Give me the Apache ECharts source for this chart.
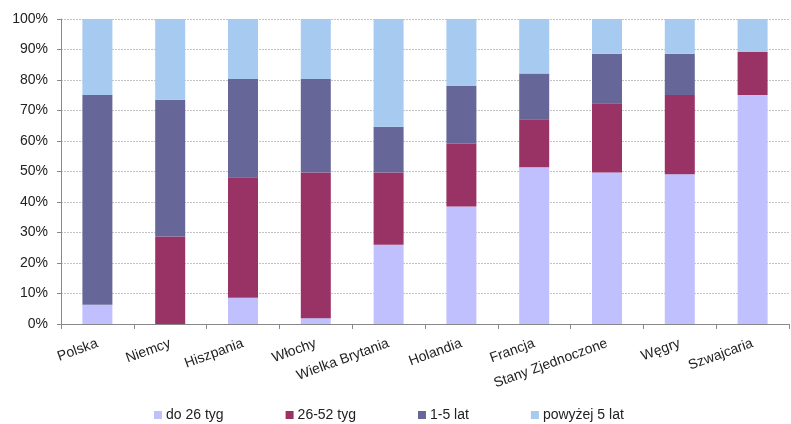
<!DOCTYPE html>
<html>
<head>
<meta charset="utf-8">
<script src="https://cdn.jsdelivr.net/npm/echarts@6/dist/echarts.min.js"></script>
<style>
  html, body { margin: 0; padding: 0; background: #fff; }
  #chart { width: 791px; height: 424px; }
</style>
</head>
<body>
<div id="chart"></div>
<script>
// Countries on the category axis
const categories = ['Polska', 'Niemcy', 'Hiszpania', 'Włochy', 'Wielka Brytania',
  'Holandia', 'Francja', 'Stany Zjednoczone', 'Węgry', 'Szwajcaria'];

// Share of each duration group (%)
const do26tyg   = [6.3, 0, 8.6, 1.9, 26.0, 38.5, 51.4, 49.7, 49.1, 75.1];
const tyg26_52  = [0, 28.7, 39.5, 47.8, 23.7, 20.6, 15.7, 22.7, 26.0, 14.1];
const lat1_5    = [68.8, 44.8, 32.2, 30.6, 15.0, 18.9, 15.0, 16.2, 13.5, 0];
const powyzej5  = [24.9, 26.5, 19.7, 19.7, 35.3, 22.0, 17.9, 11.4, 11.4, 10.8];

const seriesNames = ['do 26 tyg', '26-52 tyg', '1-5 lat', 'powyżej 5 lat'];
const colors = ['#C0C0FF', '#993366', '#666699', '#A6CAF0'];
const yTicks = [0, 10, 20, 30, 40, 50, 60, 70, 80, 90, 100];

const font = 'Liberation Sans, Arial, sans-serif';
const chart = echarts.init(document.getElementById('chart'));

const mk = (name, data) => ({
  name, type: 'bar', stack: 'total', data,
  barWidth: 30,
  itemStyle: { borderWidth: 0 }
});

chart.setOption({
  animation: false,
  color: colors,
  textStyle: { fontFamily: font },
  grid: { left: 61, right: 2, top: 19, bottom: 100, containLabel: false },
  legend: {
    data: seriesNames,
    top: 403,
    left: 149,
    itemWidth: 8,
    itemHeight: 8,
    itemGap: 62,
    icon: 'rect',
    textStyle: { fontSize: 14, color: '#222', fontFamily: font, padding: [0, 0, 0, -1] }
  },
  xAxis: {
    type: 'category',
    data: categories,
    axisLine: { lineStyle: { color: '#888', width: 1 } },
    axisTick: { show: true, length: 5, lineStyle: { color: '#888' } },
    axisLabel: {
      rotate: 20, margin: 19, fontSize: 14, color: '#222', fontFamily: font, interval: 0
    }
  },
  yAxis: {
    type: 'value',
    min: 0, max: 100, interval: 10,
    axisLine: { show: true, lineStyle: { color: '#888' } },
    axisTick: { show: true, length: 4, lineStyle: { color: '#888' } },
    splitLine: { lineStyle: { color: '#c4c4c4', type: [2, 1] } },
    axisLabel: {
      formatter: v => yTicks.includes(v) ? v + '%' : '',
      fontSize: 14, color: '#222', fontFamily: font, margin: 13
    }
  },
  series: [
    mk(seriesNames[0], do26tyg),
    mk(seriesNames[1], tyg26_52),
    mk(seriesNames[2], lat1_5),
    mk(seriesNames[3], powyzej5)
  ]
});
</script>
</body>
</html>
